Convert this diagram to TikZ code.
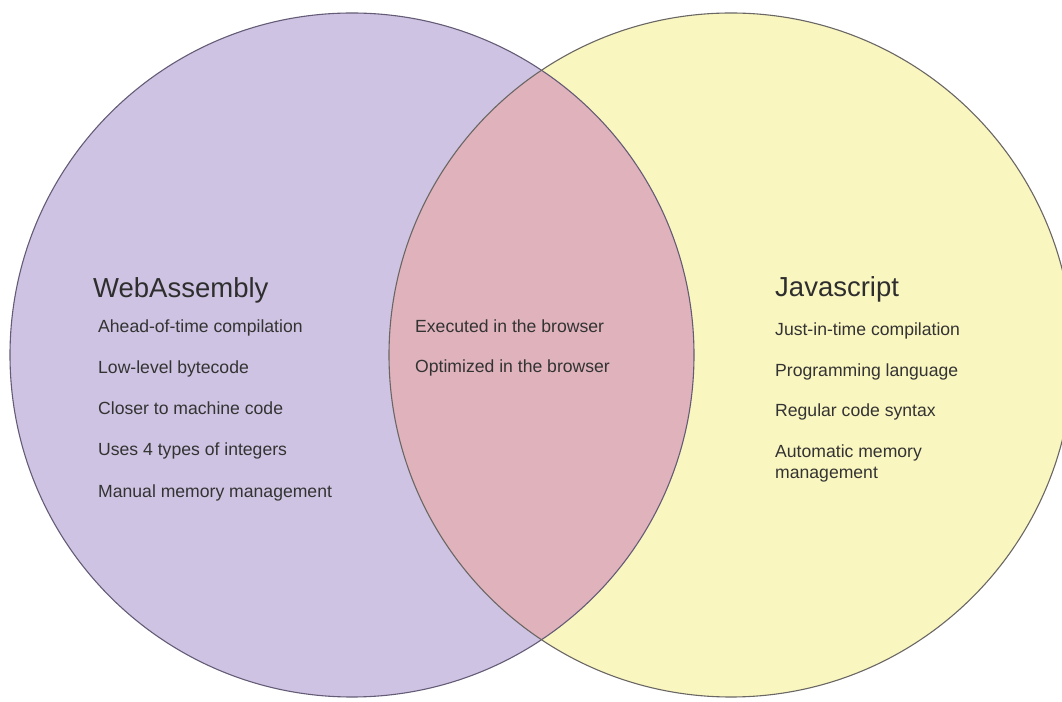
\documentclass[tikz,border=0pt]{standalone}
\usepackage{fontspec}
\setmainfont{Liberation Sans}
\begin{document}
\begin{tikzpicture}[x=1pt,y=1pt,
  title/.style={anchor=base west,inner sep=0pt,text=black!82,font=\fontsize{27.5}{31}\selectfont},
  item/.style={anchor=base west,inner sep=0pt,text=black!80,font=\fontsize{17.6}{21}\selectfont,align=left}]
\useasboundingbox (0,0) rectangle (1062,701);
\clip (0,0) rectangle (1062,701);
\def\Lc{(352,346) circle[radius=342]}
\def\Rc{(731,346) circle[radius=342]}
\fill[fill={rgb,255:red,206;green,195;blue,226}] \Lc;
\fill[fill={rgb,255:red,250;green,246;blue,192}] \Rc;
\begin{scope}
  \clip \Lc;
  \fill[fill={rgb,255:red,223;green,178;blue,188}] \Rc;
\end{scope}
\draw[line width=1.1pt,draw={rgb,255:red,100;green,92;blue,118}] \Lc;
\draw[line width=1.1pt,draw={rgb,255:red,105;green,102;blue,100}] \Rc;
% left
\node[title] (wa) at (93,403) {WebAssembly};
\node[item] (w1) at (98,368) {Ahead-of-time compilation};
\node[item] (w2) at (98,327) {Low-level bytecode};
\node[item] (w3) at (98,286) {Closer to machine code};
\node[item] (w4) at (98,245) {Uses 4 types of integers};
\node[item] (w5) at (98,203) {Manual memory management};
% middle
\node[item] (m1) at (415,368) {Executed in the browser};
\node[item] (m2) at (415,328) {Optimized in the browser};
% right
\node[title] (js) at (775,404) {Javascript};
\node[item] (j1) at (775,365) {Just-in-time compilation};
\node[item] (j2) at (775,324) {Programming language};
\node[item] (j3) at (775,284) {Regular code syntax};
\node[item] (j4) at (775,222) {Automatic memory\\management};
\end{tikzpicture}
\end{document}
